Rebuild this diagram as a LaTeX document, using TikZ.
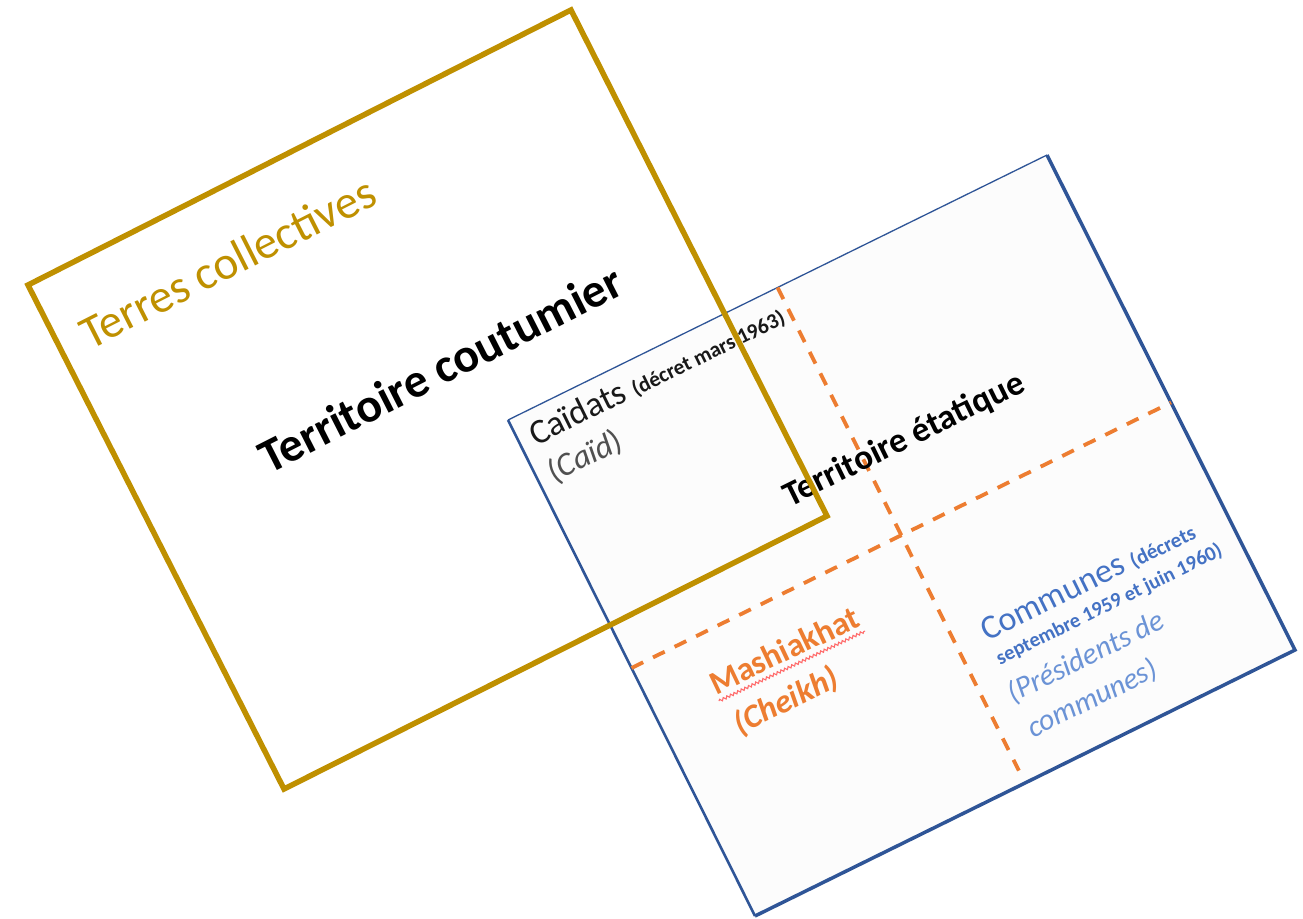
\documentclass[tikz,border=0pt]{standalone}
\usepackage{fontspec}
\setmainfont{Carlito}
\usetikzlibrary{calc,decorations.pathmorphing}
\definecolor{gold}{HTML}{BF9000}
\definecolor{bordblue}{HTML}{2F5597}
\definecolor{orng}{HTML}{ED7D31}
\definecolor{comblue}{HTML}{4472C4}
\definecolor{litblue}{HTML}{6B93D6}
\definecolor{caidgray}{HTML}{505050}
\definecolor{spellred}{HTML}{FF6B6B}
\begin{document}
\begin{tikzpicture}[x=1pt,y=-1pt,
  lbl/.style={inner sep=0pt, outer sep=0pt, anchor=base west},
  goldtxt/.style={lbl, rotate=26.9},
  bluetxt/.style={lbl, rotate=26.2},
  divider/.style={orng, line width=3.8pt, dash pattern=on 13pt off 11pt},
]
\useasboundingbox (0,0) rectangle (1303,918);
\fill[white] (0,0) rectangle (1303,918);
% blue rectangle (Territoire etatique)
\coordinate (bL) at (508,420);
\coordinate (bT) at (1047,155);
\coordinate (bR) at (1295,650);
\coordinate (bB) at (755,916);
\fill[white!99!black] (bL)--(bT)--(bR)--(bB)--cycle;
\draw[bordblue, line width=1.3pt] (bL)--(bT);
\draw[bordblue, line width=3.5pt, line join=miter] (bT)--(bR)--(bB);
\draw[bordblue, line width=2.6pt] (bB)--(bL);
% dividers
\coordinate (dTop) at ($(bL)!0.5!(bT)$);
\coordinate (dBot) at ($(bB)!0.5!(bR)$);
\coordinate (dEnd) at ($(dTop)!0.975!(dBot)$);
\coordinate (hL) at ($(bL)!0.5!(bB)$);
\coordinate (hR) at ($(bT)!0.5!(bR)$);
\draw[divider] (dTop) -- (dEnd);
\draw[divider] (hL) -- (hR);
% texts in blue rectangle
\node[bluetxt, text=black!90] (caidats) at (536,446)
  {\fontsize{35}{42}\selectfont Caïdats \fontsize{21.5}{26}\selectfont\bfseries(décret mars 1963)};
\node[bluetxt, text=caidgray] (caid) at (554,483)
  {\fontsize{33}{40}\selectfont(\textit{Caïd})};
\node[bluetxt, text=black] (etat) at (790,507)
  {\fontsize{35}{42}\selectfont\bfseries Territoire étatique};
\node[bluetxt, rotate=-0.8, text=orng] (mash) at (716,695)
  {\fontsize{33}{40}\selectfont\bfseries Mashiakhat};
\coordinate (w1) at (719,701);
\coordinate (w2) at (865,631);
\draw[spellred, line width=1.1pt, decorate, decoration={snake, amplitude=1.3pt, segment length=4pt}] (w1) -- (w2);
\node[bluetxt, text=orng] (cheikh) at (740,735)
  {\fontsize{33}{40}\selectfont\bfseries\itshape (Cheikh)};
\node[bluetxt, text=comblue] (communes) at (987,641)
  {\fontsize{34}{40}\selectfont Communes \fontsize{21}{25}\selectfont\bfseries(décrets};
\node[bluetxt, text=comblue] (decrets) at (1000,665)
  {\fontsize{20.5}{25}\selectfont\bfseries septembre 1959 et juin 1960)};
\node[bluetxt, text=litblue] (pres) at (1013,703)
  {\fontsize{30}{36}\selectfont\itshape (Présidents de};
\node[bluetxt, text=litblue] (comm2) at (1033,738)
  {\fontsize{30}{36}\selectfont\itshape communes)};
% gold square (Terres collectives)
\coordinate (gA) at (28,285);
\coordinate (gB) at (571,10);
\coordinate (gC) at (827,516);
\coordinate (gD) at (284,789);
\draw[gold, line width=5.5pt, line join=miter] (gA)--(gB)--(gC)--(gD)--cycle;
\node[goldtxt, text=gold] (terres) at (90,350)
  {\fontsize{47}{56}\selectfont Terres collectives};
\node[goldtxt, text=black] (coutumier) at (269,474)
  {\fontsize{48}{58}\selectfont\bfseries Territoire coutumier};
\end{tikzpicture}
\end{document}
